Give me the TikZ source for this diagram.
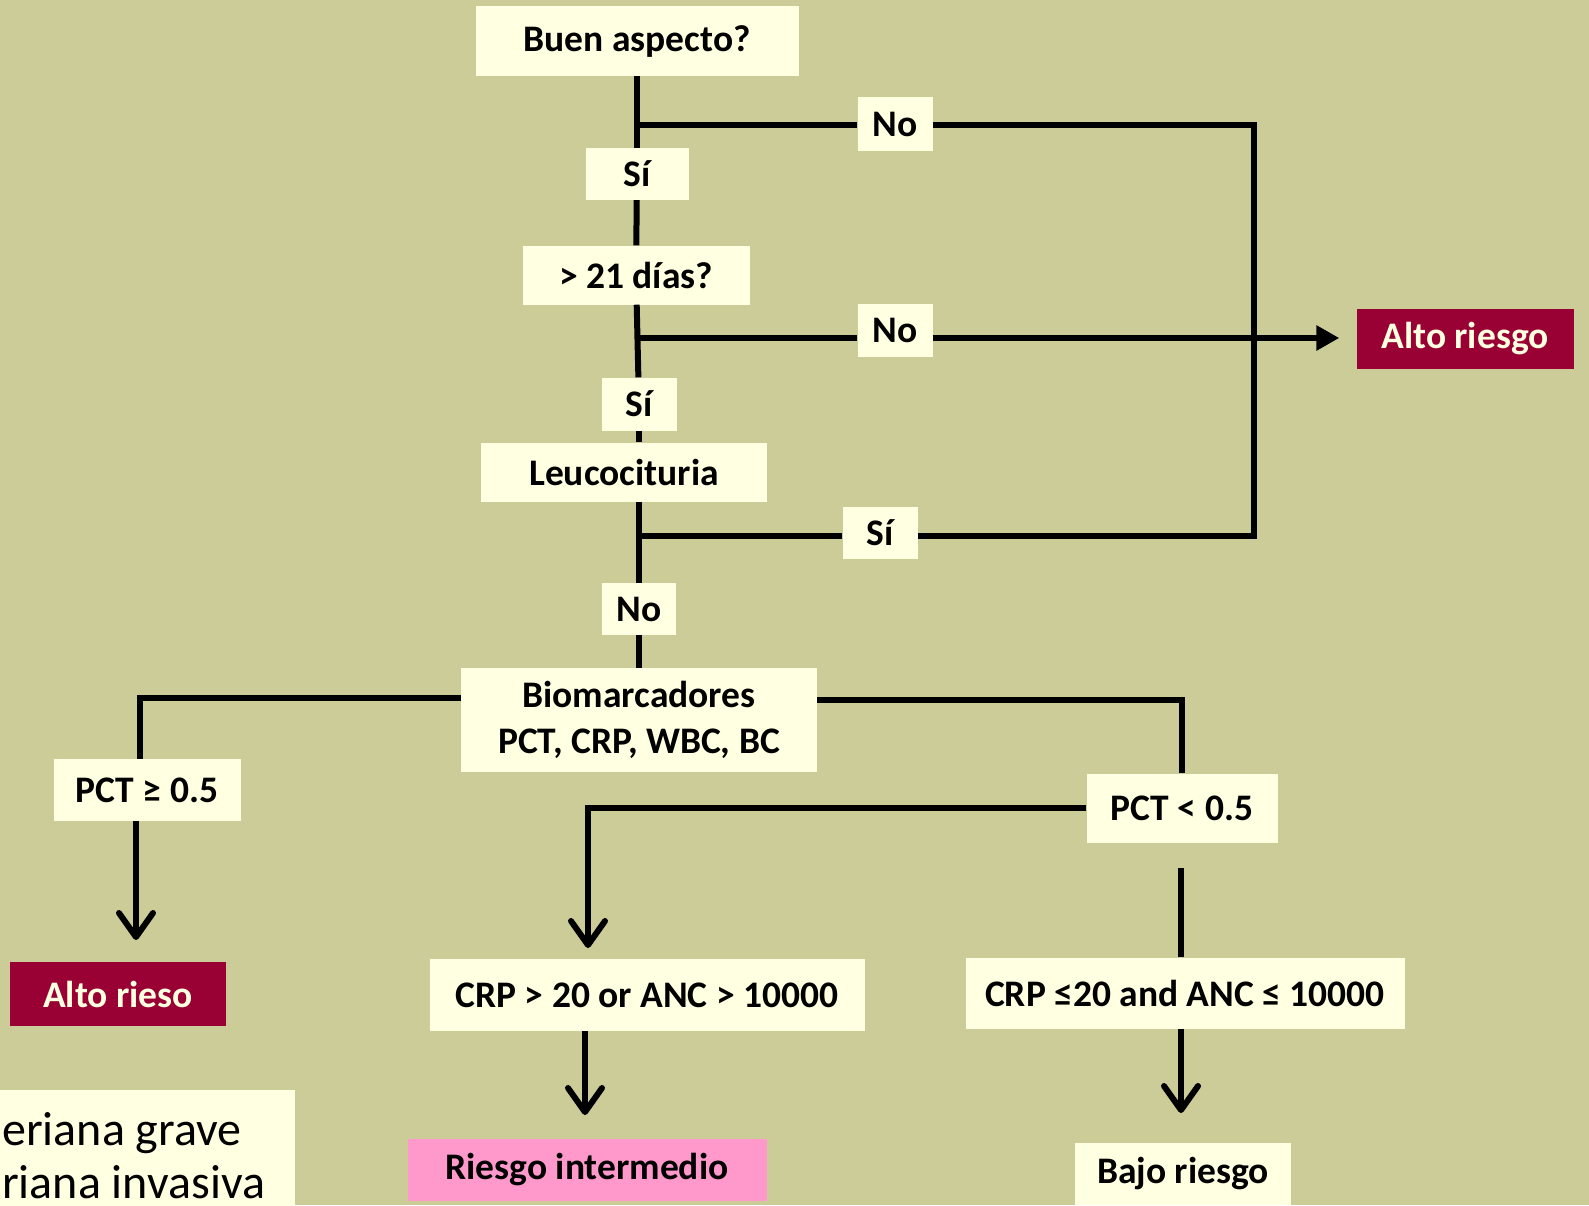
\documentclass[tikz,border=0pt]{standalone}
\usepackage{fontspec}
\setmainfont{Carlito}
\usetikzlibrary{arrows.meta, positioning, calc}
\definecolor{bgolive}{HTML}{CCCC99}
\definecolor{boxcream}{HTML}{FFFFE1}
\definecolor{riskred}{HTML}{990033}
\definecolor{riskpink}{HTML}{FF99CC}

\begin{document}
\begin{tikzpicture}[x=1pt, y=-1pt,
    box/.style={fill=boxcream, inner sep=0pt, align=center, font=\fontsize{37.5}{46}\selectfont\bfseries},
    redbox/.style={box, fill=riskred, text=boxcream},
    note/.style={fill=boxcream, inner xsep=2pt, inner ysep=0pt, align=flush left, text width=291pt, font=\fontsize{48}{53}\selectfont},
    sz/.style 2 args={minimum width=#1pt, minimum height=#2pt},
    link/.style={line width=6pt},
    down/.style={link, -{Straight Barb[round, length=24pt, width=34pt]}},
    toalto/.style={link, -{Triangle[length=23pt, width=24pt]}}
]
\fill[bgolive] (0,0) rectangle (1589,1205);
\useasboundingbox (0,0) rectangle (1589,1205);

% questions
\node[box, sz={323}{70}] (buen) at (637,41) {Buen aspecto?};
\node[box, sz={103}{52}] (si1) at (637,174) {Sí};
\node[box, sz={227}{59}] (dias) at (636,275) {> 21 días?};
\node[box, sz={75}{54}] (no1) at (895,124) {No};
\node[box, sz={75}{53}] (no2) at (895,330) {No};
\node[box, sz={75}{53}] (si2) at (639,404) {Sí};
\node[box, sz={286}{59}] (leuco) at (624,472) {Leucocituria};
\node[box, sz={75}{52}] (si3) at (880,533) {Sí};
\node[box, sz={74}{52}] (no3) at (639,609) {No};
\node[box, sz={356}{104}] (bio) at (639,720) {Biomarcadores\\PCT, CRP, WBC, BC};
\node[box, sz={187}{62}] (pcthi) at (147,790) {PCT ≥ 0.5};
\node[box, sz={191}{69}] (pctlo) at (1182,808) {PCT < 0.5};
\node[box, sz={435}{72}] (crphi) at (647,995) {CRP > 20 or ANC > 10000};
\node[box, sz={439}{71}] (crplo) at (1185,993) {CRP ≤20 and ANC ≤ 10000};

% outcomes
\node[redbox, sz={217}{60}] (altoR) at (1465,339) {Alto riesgo};
\node[redbox, sz={216}{64}] (altoL) at (118,994) {Alto rieso};
\node[box, fill=riskpink, sz={359}{62}] (inter) at (587,1170) {Riesgo intermedio};
\node[box, sz={216}{62}] (bajo) at (1183,1174) {Bajo riesgo};
\node[note, anchor=north west, minimum height=130pt] (nota) at (0,1090) {eriana grave\\riana invasiva};

% main trunk
\draw[link] (buen) -- (si1);
\draw[link] (si1) -- (dias);
\draw[link] (dias) -- (si2);
\draw[link] (si2.south) -- (si2.south |- leuco.north);
\draw[link] (leuco.south -| no3) -- (no3);
\draw[link] (no3) -- (no3 |- bio.north);

% branches to the right
\coordinate (j1) at (637,125);
\coordinate (j2) at (636,338);
\coordinate (j3) at (639,536);
\coordinate (turnA) at (1254,125);
\coordinate (turnB) at (1254,536);
\draw[link] (j1) -- (j1 -| no1.west);
\draw[link] (no1.east |- j1) -- (turnA) -- (turnB) -- (si3.east |- turnB);
\draw[link] (j3) -- (j3 -| si3.west);
\draw[link] (j2) -- (j2 -| no2.west);
\draw[toalto, shorten >=17pt] (no2.east |- j2) -- (altoR.west |- j2);

% biomarker split
\coordinate (lcorner) at (140,698);
\coordinate (ltip) at (136,940);
\draw[link] ([yshift=22pt]bio.west) -- (lcorner) -- (lcorner |- pcthi.north);
\draw[down] (ltip |- pcthi.south) -- (ltip);
\draw[link] ([yshift=20pt]bio.east) -| (pctlo.north);
\coordinate (mtip) at (588,948);
\draw[down] (pctlo.west) -| (mtip);
\coordinate (gapend) at (1181,868);
\draw[link] (gapend) -- (gapend |- crplo.north);
\coordinate (itip) at (585,1115);
\draw[down] (itip |- crphi.south) -- (itip);
\coordinate (btip) at (1181,1113);
\draw[down] (btip |- crplo.south) -- (btip);
\end{tikzpicture}
\end{document}
